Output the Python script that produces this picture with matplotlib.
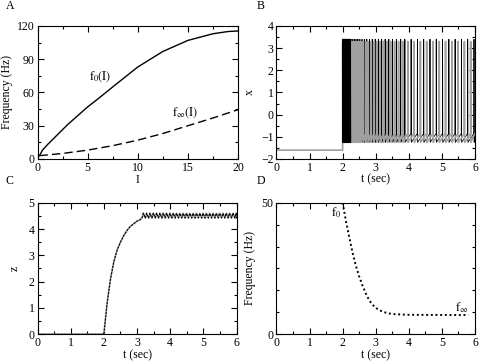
import numpy as np
import matplotlib
matplotlib.use('Agg')
import matplotlib.pyplot as plt
from matplotlib.ticker import MultipleLocator

plt.rcParams['font.family'] = ['Liberation Serif', 'DejaVu Serif']
plt.rcParams['mathtext.fontset'] = 'stix'
plt.rcParams['font.size'] = 8.5

# --- panel A: f-I curves ---
I_f0 = [0.2, 0.5, 1, 2, 3, 4, 5, 6, 7.5, 10, 12.5, 15, 17.5, 19, 20]
f0_I = [3, 8, 13, 22, 31, 39, 47, 54, 65, 83, 97, 107, 113, 115, 115.5]
I_finf = [0.2, 2.5, 5, 7.5, 10, 12.5, 15, 17.5, 20]
finf_I = [3, 5, 8, 12, 17, 23, 30, 37, 44.5]

# --- panel B: spike times (sec) of the two traces ---
black_spikes = [2.000, 2.012, 2.024, 2.036, 2.048, 2.060, 2.072, 2.084, 2.096,
                2.108, 2.120, 2.132, 2.144, 2.156, 2.168, 2.180, 2.192, 2.204,
                2.216, 2.228, 2.240, 2.270, 2.310, 2.355, 2.405, 2.460, 2.520,
                2.585, 2.655, 2.730, 2.810, 2.895, 2.985, 3.080, 3.180, 3.285,
                3.395, 3.510, 3.630, 3.755, 3.880, 4.070, 4.260, 4.450, 4.640,
                4.830, 5.020, 5.210, 5.400, 5.590, 5.780, 5.970]
gray_spikes = [2.000, 2.020, 2.040, 2.060, 2.080, 2.100, 2.120, 2.140, 2.160,
               2.180, 2.200, 2.220, 2.250, 2.290, 2.330, 2.380, 2.430, 2.490,
               2.550, 2.620, 2.695, 2.770, 2.850, 2.940, 3.030, 3.130, 3.235,
               3.340, 3.450, 3.570, 3.690, 3.815, 3.970, 4.160, 4.350, 4.540,
               4.730, 4.920, 5.110, 5.300, 5.490, 5.680, 5.870]
x_rest = -1.6
black_peak, gray_peak = 3.4, 3.3
trough, pre_spike = -1.25, -0.85

# --- panel C: adaptation variable z ---
z_t = [0, 2.0, 2.05, 2.1, 2.2, 2.3, 2.4, 2.5, 2.6, 2.7, 2.8, 2.9, 3.0, 3.1]
z_v = [0, 0, 0.6, 1.2, 2.1, 2.75, 3.2, 3.5, 3.75, 3.95, 4.1, 4.2, 4.3, 4.36]
z_spikes = [3.15, 3.25, 3.35, 3.45, 3.55, 3.65, 3.75, 3.85, 3.95, 4.05, 4.15,
            4.25, 4.35, 4.45, 4.55, 4.65, 4.75, 4.85, 4.95, 5.05, 5.15, 5.25,
            5.35, 5.45, 5.55, 5.65, 5.75, 5.85, 5.95]
z_low, z_high = 4.42, 4.6

# --- panel D: instantaneous frequency ---
fr_t = [2.0, 2.1, 2.2, 2.3, 2.4, 2.5, 2.6, 2.7, 2.8, 2.9, 3.0, 3.2, 3.4, 3.6, 4.0, 5.8]
fr_v = [50, 43, 37, 31, 26, 22, 18.5, 15.5, 13, 11.3, 10, 8.6, 7.9, 7.6, 7.4, 7.3]


def spike_trace(spikes, peak, start=None):
    xs, ys = [], []
    if start is not None:
        xs += [start, spikes[0]]
        ys += [x_rest, x_rest]
    for k, s in enumerate(spikes):
        xs += [s, s + 0.006]
        ys += [peak, trough]
        if k + 1 < len(spikes) and spikes[k + 1] - s > 0.03:
            xs.append(spikes[k + 1] - 0.004)
            ys.append(pre_spike)
    xs.append(6.0)
    ys.append(pre_spike)
    return xs, ys


def style(ax, xmaj, xmin, ymaj, ymin):
    ax.xaxis.set_major_locator(MultipleLocator(xmaj))
    ax.xaxis.set_minor_locator(MultipleLocator(xmin))
    ax.yaxis.set_major_locator(MultipleLocator(ymaj))
    ax.yaxis.set_minor_locator(MultipleLocator(ymin))
    ax.tick_params(which='both', direction='in', top=True, right=True, width=0.8)
    ax.tick_params(which='major', length=4.5, pad=2)
    ax.tick_params(which='minor', length=2.5)
    for sp in ax.spines.values():
        sp.set_linewidth(0.8)


fig = plt.figure(figsize=(4.79, 3.63), dpi=100)
axA = fig.add_axes([0.0783, 0.562, 0.4186, 0.3664])
axB = fig.add_axes([0.5772, 0.562, 0.4144, 0.3664])
axC = fig.add_axes([0.0783, 0.0791, 0.4155, 0.3625])
axD = fig.add_axes([0.5772, 0.0791, 0.4144, 0.3625])

# A
axA.plot(I_f0, f0_I, color='black', lw=1)
axA.plot(I_finf, finf_I, color='black', lw=1, dashes=(6, 3))
axA.set_xlim(0, 20)
axA.set_ylim(0, 120)
style(axA, 5, 2.5, 30, 15)
axA.set_xlabel('I', labelpad=0)
axA.set_ylabel('Frequency (Hz)', labelpad=3)
axA.text(5.1, 74, r'$\mathrm{f}_0\mathrm{(I)}$', va='center', fontsize=8.5)
axA.text(13.4, 41.5, r'$\mathrm{f}_\infty\mathrm{(I)}$', va='center', fontsize=8.5)

# B
gx, gy = spike_trace(gray_spikes, gray_peak, start=0.0)
bx, by = spike_trace(black_spikes, black_peak)
axB.plot(bx, by, color='black', lw=0.6)
axB.plot(gx, gy, color='#a0a0a0', lw=1.2)
# black burst stays on top of the gray one
axB.plot(bx[:42], by[:42], color='black', lw=0.6)
axB.set_xlim(0, 6)
axB.set_ylim(-2, 4)
style(axB, 1, 0.5, 1, 0.5)
axB.set_xlabel('t (sec)', labelpad=0)
axB.set_ylabel('x', labelpad=4)

# C
zx = list(z_t)
zy = list(z_v)
for s in z_spikes:
    zx += [s, s + 0.04]
    zy += [z_low, z_high]
zx.append(6.0)
zy.append(z_low)
axC.plot(zx, zy, color='#a0a0a0', lw=1.2)
axC.plot(zx, zy, color='black', lw=0.8, ls=(0, (2, 1)))
axC.set_xlim(0, 6)
axC.set_ylim(0, 5)
style(axC, 1, 0.5, 1, 0.5)
axC.set_xlabel('t (sec)', labelpad=0)
axC.set_ylabel('z', labelpad=6)

# D
axD.plot(fr_t, fr_v, color='black', lw=1.4, ls=(0, (1, 1.4)))
axD.set_xlim(0, 6)
axD.set_ylim(0, 50)
style(axD, 1, 0.5, 50, 50 / 6)
axD.set_xlabel('t (sec)', labelpad=0)
axD.set_ylabel('Frequency (Hz)', labelpad=4)
axD.text(1.65, 46, r'$\mathrm{f}_0$', va='center', fontsize=8.5)
axD.text(5.4, 10, r'$\mathrm{f}_\infty$', va='center', fontsize=8.5)

for lab, x, y in [('A', 0.012, 0.983), ('B', 0.535, 0.983),
                  ('C', 0.012, 0.502), ('D', 0.535, 0.502)]:
    fig.text(x, y, lab, va='center', ha='left', fontsize=8.5)

fig.savefig('out.png', dpi=100)
